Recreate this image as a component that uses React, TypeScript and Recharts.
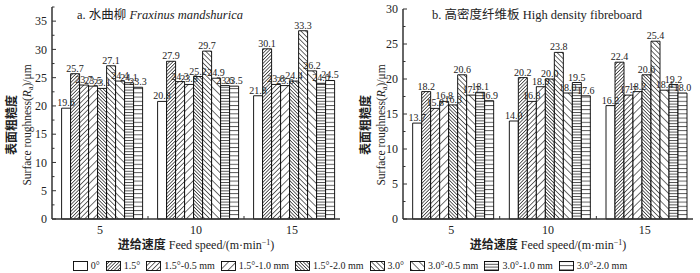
import React from "react";
import { BarChart, Bar, XAxis, YAxis, LabelList } from "recharts";

const SPEEDS = ["5", "10", "15"];

const SERIES = [
  "0°",
  "1.5°",
  "1.5°-0.5 mm",
  "1.5°-1.0 mm",
  "1.5°-2.0 mm",
  "3.0°",
  "3.0°-0.5 mm",
  "3.0°-1.0 mm",
  "3.0°-2.0 mm",
];

// Fraxinus mandshurica, one array per feed speed, in series order
const ASH_5 = [19.6, 25.7, 23.7, 23.5, 23.1, 27.1, 24.4, 24.1, 23.3];
const ASH_10 = [20.8, 27.9, 24.3, 23.8, 25.2, 29.7, 24.9, 23.6, 23.5];
const ASH_15 = [21.8, 30.1, 23.8, 23.6, 24.4, 33.3, 26.2, 24.0, 24.5];

// High density fibreboard
const HDF_5 = [13.7, 18.2, 15.8, 16.8, 16.3, 20.6, 17.7, 18.1, 16.9];
const HDF_10 = [14.0, 20.2, 16.8, 18.9, 20.0, 23.8, 18.0, 19.5, 17.6];
const HDF_15 = [16.2, 22.4, 17.7, 18.2, 20.6, 25.4, 18.4, 19.2, 18.0];

const ASH_TICKS = [0, 2.5, 5, 7.5, 10, 12.5, 15, 17.5, 20, 22.5, 25, 27.5, 30, 32.5, 35, 37.5];
const HDF_TICKS = [0, 2.5, 5, 7.5, 10, 12.5, 15, 17.5, 20, 22.5, 25, 27.5, 30];

const FONT = '"Liberation Serif", "Times New Roman", "Noto Sans CJK SC", serif';
const CJK = '"Noto Sans CJK SC", "Liberation Serif", serif';

// hatch styles: [spacing, rotation] ; rotation null = white, "h" = horizontal
const HATCH: [number, number | "h" | null][] = [
  [0, null],
  [2.4, 45],
  [3.4, 45],
  [5.5, 45],
  [2.4, -45],
  [3.4, -45],
  [5.5, -45],
  [2.8, "h"],
  [4.2, "h"],
];

const buildRows = (groups: number[][]) =>
  SPEEDS.map((speed, i) => {
    const row: Record<string, string | number> = { speed };
    groups[i].forEach((v, k) => {
      row[`s${k}`] = v;
    });
    return row;
  });

const ashRows = buildRows([ASH_5, ASH_10, ASH_15]);
const hdfRows = buildRows([HDF_5, HDF_10, HDF_15]);

const Patterns = ({ prefix }: { prefix: string }) => (
  <defs>
    {HATCH.map(([sp, rot], k) => {
      if (rot === null) return null;
      if (rot === "h") {
        return (
          <pattern key={k} id={`${prefix}${k}`} patternUnits="userSpaceOnUse" width={4} height={sp}>
            <rect width={4} height={sp} fill="#fff" />
            <line x1={0} y1={0.5} x2={4} y2={0.5} stroke="#222" strokeWidth={0.8} />
          </pattern>
        );
      }
      return (
        <pattern
          key={k}
          id={`${prefix}${k}`}
          patternUnits="userSpaceOnUse"
          width={sp}
          height={sp}
          patternTransform={`rotate(${rot})`}
        >
          <rect width={sp} height={sp} fill="#fff" />
          <line x1={0.4} y1={0} x2={0.4} y2={sp} stroke="#222" strokeWidth={0.7} />
        </pattern>
      );
    })}
  </defs>
);

const fillFor = (prefix: string, k: number) => (HATCH[k][1] === null ? "#fff" : `url(#${prefix}${k})`);

const YTick = (props: any) => {
  const { x, y, payload } = props;
  const v = payload.value as number;
  const major = v % 5 === 0;
  const ax = x + 4;
  return (
    <g>
      <line x1={ax} y1={y} x2={ax + (major ? 4 : 2.5)} y2={y} stroke="#333" strokeWidth={1} />
      {major && (
        <text x={x - 1} y={y} dy="0.35em" textAnchor="end" fontSize={12} fontFamily={FONT} fill="#222">
          {v}
        </text>
      )}
    </g>
  );
};

const makeXTick = (band: number) => (props: any) => {
  const { x, y, payload, index } = props;
  return (
    <g>
      {index < 2 && (
        <line x1={x + band / 2} y1={y} x2={x + band / 2} y2={y - 3} stroke="#333" strokeWidth={1} />
      )}
      <text x={x} y={y + 15} textAnchor="middle" fontSize={12} fontFamily={FONT} fill="#222">
        {payload.value}
      </text>
    </g>
  );
};

const Panel = ({
  rows,
  prefix,
  max,
  ticks,
  margin,
  yWidth,
  band,
}: {
  rows: Record<string, string | number>[];
  prefix: string;
  max: number;
  ticks: number[];
  margin: { top: number; right: number; left: number; bottom: number };
  yWidth: number;
  band: number;
}) => (
  <BarChart width={350} height={250} data={rows} margin={margin} barGap={0} barCategoryGap="10%">
    <Patterns prefix={prefix} />
    <XAxis
      dataKey="speed"
      height={31}
      tickLine={false}
      tickSize={0}
      tickMargin={0}
      axisLine={{ stroke: "#333", strokeWidth: 1.5 }}
      tick={makeXTick(band)}
      interval={0}
    />
    <YAxis
      width={yWidth}
      domain={[0, max]}
      ticks={ticks}
      interval={0}
      tickLine={false}
      tickSize={0}
      tickMargin={4}
      axisLine={{ stroke: "#333", strokeWidth: 1.5 }}
      tick={<YTick />}
    />
    {SERIES.map((name, k) => (
      <Bar
        key={name}
        dataKey={`s${k}`}
        name={name}
        fill={fillFor(prefix, k)}
        stroke="#000"
        strokeWidth={0.9}
        isAnimationActive={false}
      >
        <LabelList
          dataKey={`s${k}`}
          position="top"
          offset={2}
          fontSize={10}
          fontFamily={FONT}
          fill="#222"
          formatter={(v: any) => Number(v).toFixed(1)}
        />
      </Bar>
    ))}
  </BarChart>
);

const YLabel = ({ x, cy }: { x: number; cy: number }) => (
  <svg style={{ position: "absolute", left: 0, top: 0 }} width={700} height={273}>
    <text
      transform={`translate(${x},${cy}) rotate(-90)`}
      textAnchor="middle"
      fontSize={12}
      fontFamily={CJK}
      fontWeight="bold"
      fill="#222"
    >
      表面粗糙度
    </text>
    <text
      transform={`translate(${x + 15},${cy}) rotate(-90)`}
      textAnchor="middle"
      fontSize={11.5}
      fontFamily={FONT}
      fill="#222"
    >
      Surface roughness(
      <tspan fontStyle="italic">R</tspan>
      <tspan fontSize={8} dy={2}>a</tspan>
      <tspan dy={-2}>)/μm</tspan>
    </text>
  </svg>
);

const Legend = () => (
  <div
    style={{
      position: "absolute",
      left: 0,
      top: 259,
      width: 700,
      display: "flex",
      justifyContent: "center",
      gap: 6,
      fontFamily: FONT,
      fontSize: 10,
      color: "#222",
      lineHeight: "13px",
      whiteSpace: "nowrap",
    }}
  >
    {SERIES.map((name, k) => (
      <div key={name} style={{ display: "flex", alignItems: "center", gap: 3 }}>
        <svg width={15} height={10}>
          <Patterns prefix={`lg${k}_`} />
          <rect x={0.5} y={0.5} width={14} height={9} fill={fillFor(`lg${k}_`, k)} stroke="#000" strokeWidth={0.9} />
        </svg>
        <span>{name}</span>
      </div>
    ))}
  </div>
);

const App = () => (
  <div style={{ position: "absolute", left: 0, top: 0, width: 700, height: 273, background: "#fff", fontFamily: FONT }}>
    <div style={{ position: "absolute", left: 0, top: 0 }}>
      <Panel
        rows={ashRows}
        prefix="ash"
        max={37.5}
        ticks={ASH_TICKS}
        margin={{ top: 7, right: 10, left: 0, bottom: 0 }}
        yWidth={52}
        band={96}
      />
    </div>
    <div style={{ position: "absolute", left: 350, top: 0 }}>
      <Panel
        rows={hdfRows}
        prefix="hdf"
        max={30}
        ticks={HDF_TICKS}
        margin={{ top: 9, right: 7, left: 0, bottom: 0 }}
        yWidth={53}
        band={96.7}
      />
    </div>
    <svg style={{ position: "absolute", left: 0, top: 0 }} width={700} height={273}>
      <text x={77} y={19} fontSize={12.5} fontFamily={FONT} fill="#222">
        <tspan>a. </tspan>
        <tspan fontFamily={CJK}>水曲柳</tspan>
        <tspan fontStyle="italic"> Fraxinus mandshurica</tspan>
      </text>
      <text x={432} y={19} fontSize={12.5} fontFamily={FONT} fill="#222">
        <tspan>b. </tspan>
        <tspan fontFamily={CJK}>高密度纤维板</tspan>
        <tspan> High density fibreboard</tspan>
      </text>
      <text x={196} y={249} textAnchor="middle" fontSize={12} fontFamily={FONT} fill="#222">
        <tspan fontFamily={CJK} fontWeight="bold">进给速度</tspan>
        <tspan> Feed speed/(m·min</tspan>
        <tspan fontSize={8} dy={-4}>−1</tspan>
        <tspan dy={4}>)</tspan>
      </text>
      <text x={548} y={249} textAnchor="middle" fontSize={12} fontFamily={FONT} fill="#222">
        <tspan fontFamily={CJK} fontWeight="bold">进给速度</tspan>
        <tspan> Feed speed/(m·min</tspan>
        <tspan fontSize={8} dy={-4}>−1</tspan>
        <tspan dy={4}>)</tspan>
      </text>
    </svg>
    <YLabel x={16} cy={125} />
    <div style={{ position: "absolute", left: 356, top: 0 }}>
      <YLabel x={14} cy={125} />
    </div>
    <Legend />
  </div>
);

export default App;
